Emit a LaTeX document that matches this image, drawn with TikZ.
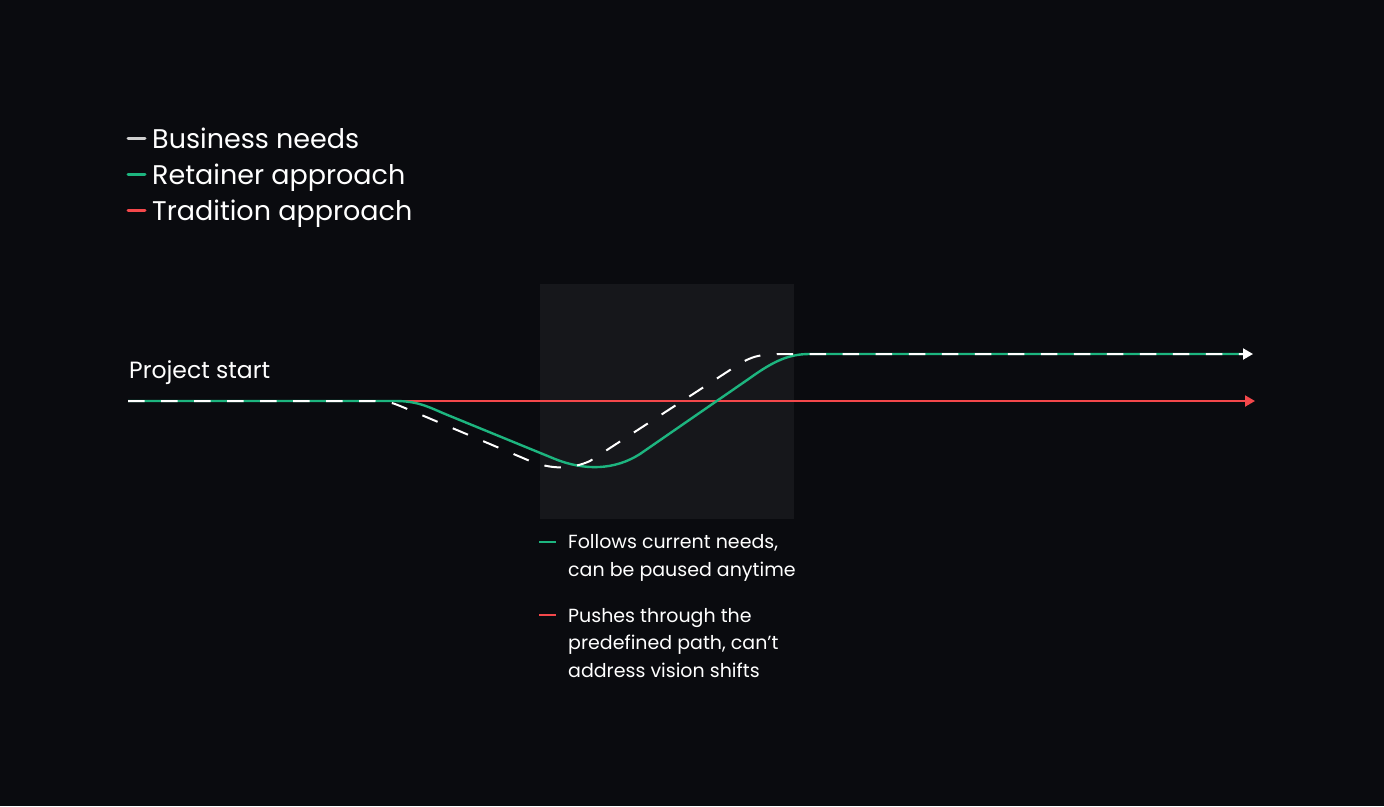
\documentclass[tikz,border=0pt]{standalone}
\usepackage{fontspec}
\setmainfont{Poppins}
\usetikzlibrary{arrows.meta}
\definecolor{bg}{HTML}{0A0B0F}
\definecolor{panel}{HTML}{16171B}
\definecolor{grn}{HTML}{1DB57F}
\definecolor{rd}{HTML}{F4484B}
\definecolor{lgray}{HTML}{CFCFCF}
\tikzset{
  lbl/.style={anchor=base west, inner sep=0pt, text=white},
  legtext/.style={lbl, font=\fontsize{27}{32}\selectfont},
  smalltext/.style={lbl, font=\fontsize{19}{27.5}\selectfont},
  legdash/.style={line width=3pt, line cap=round},
  notedash/.style={line width=1.6pt},
  redline/.style={rd, line width=2pt},
  grnline/.style={grn, line width=2.4pt},
  needline/.style={white, line width=2pt, dash pattern=on 16.5pt off 16.5pt},
  tip/.style={-{Triangle[length=10pt,width=11pt]}}
}
\begin{document}
\begin{tikzpicture}[x=1pt,y=-1pt]
\fill[bg] (0,0) rectangle (1384,806);
\useasboundingbox (0,0) rectangle (1384,806);
\fill[panel] (540,284) rectangle (794,519);

% legend
\draw[legdash, lgray] (128,138) -- (145,138);
\draw[legdash, grn] (128,174) -- (145,174);
\draw[legdash, rd] (128,210) -- (145,210);
\node[legtext] (l1) at (152,148) {Business needs};
\node[legtext] (l2) at (152,184) {Retainer approach};
\node[legtext] (l3) at (152,220) {Tradition approach};

% project start
\node[lbl, font=\fontsize{23.5}{28}\selectfont] (ps) at (129,378) {Project start};

\coordinate (s) at (128,401);
\coordinate (redend) at (1255,401);
\coordinate (grnend) at (1244,354);
\coordinate (needend) at (1253,354);

% traditional
\draw[redline, tip] (s) -- (redend);
% retainer
\draw[grnline] (s) -- (395,401) .. controls (420,401) and (430,408) .. (450,416)
  -- (555,459) .. controls (585,471) and (615,470) .. (640,454)
  -- (750,378) .. controls (775,360) and (790,354) .. (810,354) -- (grnend);
% business needs
\draw[needline, tip] (s) -- (375,401) .. controls (390,401) and (395,404) .. (405,408)
  -- (530,461) .. controls (550,469) and (570,470) .. (590,461)
  -- (730,370) .. controls (750,356) and (760,354) .. (780,354) -- (needend);

% notes
\draw[notedash, grn] (539,542) -- (556,542);
\draw[notedash, rd] (539,615) -- (556,615);
\node[smalltext] (n1a) at (568,548) {Follows current needs,};
\node[smalltext] (n1b) at (568,576) {can be paused anytime};
\node[smalltext] (n2a) at (568,622) {Pushes through the};
\node[smalltext] (n2b) at (568,649.5) {predefined path, can’t};
\node[smalltext] (n2c) at (568,677) {address vision shifts};
\end{tikzpicture}
\end{document}
